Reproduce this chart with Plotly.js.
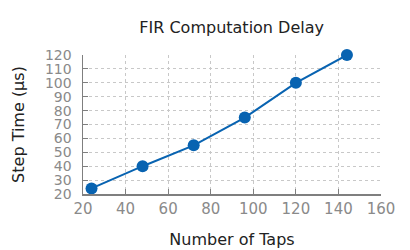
<!DOCTYPE html>
<html>
<head>
<meta charset="utf-8">
<script src="https://cdn.plot.ly/plotly-3.0.1.min.js"></script>
<style>
  html, body { margin: 0; padding: 0; background: #fff; }
  #chart { width: 410px; height: 250px; }
</style>
</head>
<body>
<div id="chart"></div>
<script>
// FIR filter: step time versus number of taps
const taps = [24, 48, 72, 96, 120, 144];
const stepTimeUs = [24, 40, 55, 75, 100, 120];

const xTicks = [20, 40, 60, 80, 100, 120, 140, 160];
const yTicks = [20, 30, 40, 50, 60, 70, 80, 90, 100, 110, 120];

const lineColor = '#0863b1';
const fontFamily = '"DejaVu Sans", Verdana, sans-serif';

const trace = {
  x: taps,
  y: stepTimeUs,
  type: 'scatter',
  mode: 'lines+markers',
  cliponaxis: false,
  line: { color: lineColor, width: 2 },
  marker: { color: lineColor, size: 12 },
  hoverinfo: 'x+y'
};

const axisCommon = {
  showline: true,
  linecolor: '#7f7f7f',
  linewidth: 1.5,
  ticks: 'inside',
  ticklen: 5,
  tickcolor: '#7f7f7f',
  tickwidth: 1,
  showgrid: true,
  gridcolor: '#c8c8c8',
  griddash: 'dot',
  gridwidth: 1,
  zeroline: false,
  tickfont: { family: fontFamily, size: 15, color: '#8a8a8a' },
  tickmode: 'array'
};

const layout = {
  width: 410,
  height: 250,
  margin: { l: 83, r: 29, t: 55, b: 56 },
  paper_bgcolor: '#ffffff',
  plot_bgcolor: '#ffffff',
  showlegend: false,
  font: { family: fontFamily, color: '#222' },
  title: {
    text: 'FIR Computation Delay',
    font: { family: fontFamily, size: 16, color: '#222' },
    x: 0.565, xanchor: 'center',
    y: 0.89, yanchor: 'middle'
  },
  xaxis: Object.assign({}, axisCommon, {
    range: [20, 160],
    tickvals: xTicks,
    ticktext: xTicks.map(String),
    title: { text: 'Number of Taps', font: { family: fontFamily, size: 16, color: '#222' }, standoff: 17 }
  }),
  yaxis: Object.assign({}, axisCommon, {
    range: [20, 120],
    tickvals: yTicks,
    ticktext: yTicks.map(String),
    tickfont: { family: fontFamily, size: 14, color: '#8a8a8a' },
    ticklabelstandoff: 7,
    title: { text: 'Step Time (μs)', font: { family: fontFamily, size: 16, color: '#222' }, standoff: 16 }
  })
};

Plotly.newPlot('chart', [trace], layout, { displayModeBar: false, staticPlot: true });
</script>
</body>
</html>
